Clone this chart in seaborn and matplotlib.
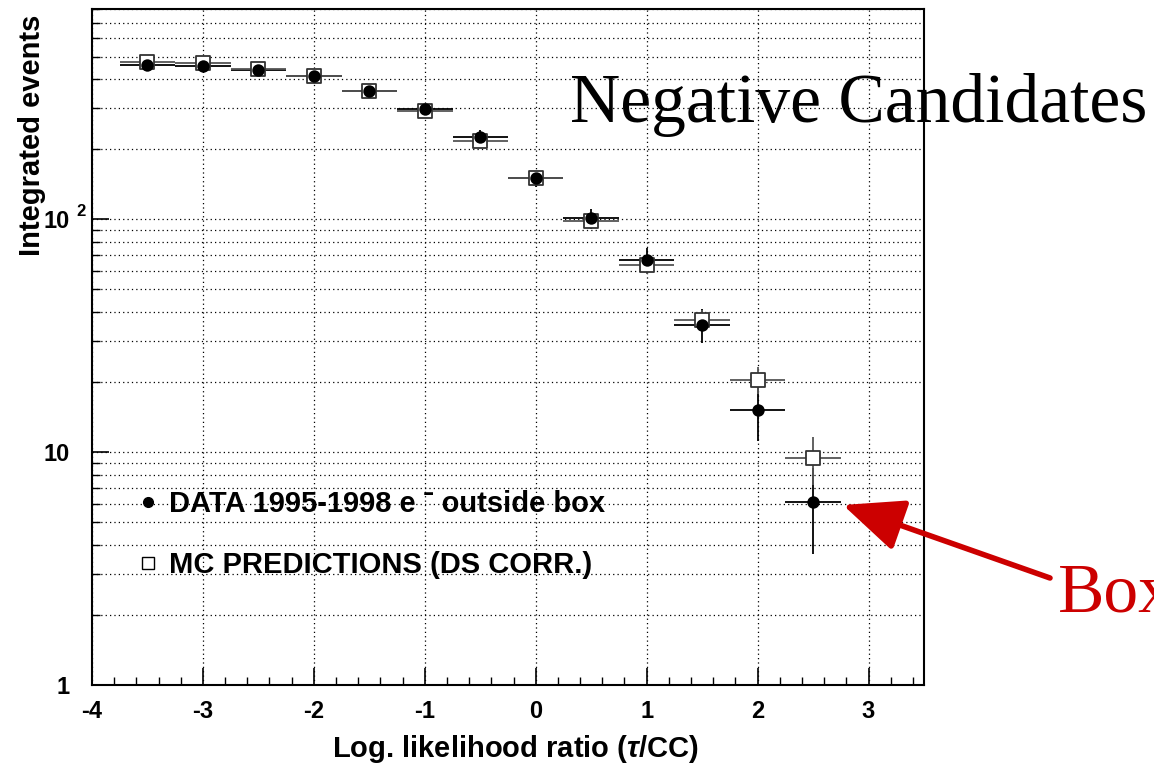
import numpy as np
import pandas as pd
import matplotlib
matplotlib.use("Agg")
import matplotlib.pyplot as plt
import matplotlib.transforms as mtransforms
import seaborn as sns
from matplotlib.ticker import FixedLocator, FixedFormatter, NullFormatter, MultipleLocator
from matplotlib.lines import Line2D

# ---- data ----
x_centers = [-3.5, -3.0, -2.5, -2.0, -1.5, -1.0, -0.5, 0.0, 0.5, 1.0, 1.5, 2.0, 2.5]
data_vals = [458, 456, 439, 411, 354, 297, 226, 150, 101, 67, 35.3, 15.1, 6.1]
data_errs = [21, 21, 21, 20, 19, 17, 15, 12, 10, 8.2, 5.9, 3.9, 2.45]
mc_vals = [472, 470, 442, 411, 354, 292, 217, 150, 98, 63.5, 37, 20.5, 9.4]
mc_errs = [14, 14, 13, 13, 12, 11, 9.5, 8, 6.5, 5, 3.8, 2.7, 2.2]
bin_half_width = 0.25
x_ticks = [-4, -3, -2, -1, 0, 1, 2, 3]
x_tick_labels = ["-4", "-3", "-2", "-1", "0", "1", "2", "3"]
y_ticks = [1, 10, 100]
y_tick_labels = ["1", "10", "10"]
y_exp_label = "2"
label_data = "DATA 1995-1998 e \u02c9 outside box"
label_mc = "MC PREDICTIONS (DS CORR.)"

df = pd.DataFrame({"x": x_centers, "data": data_vals, "data_err": data_errs,
                   "mc": mc_vals, "mc_err": mc_errs})

sns.set_theme(style="ticks")
plt.rcParams["font.family"] = ["Liberation Sans", "DejaVu Sans"]
plt.rcParams["font.weight"] = "bold"
plt.rcParams["axes.unicode_minus"] = False
plt.rcParams["mathtext.fontset"] = "custom"
plt.rcParams["mathtext.rm"] = "Liberation Sans:bold"
plt.rcParams["mathtext.bf"] = "Liberation Sans:bold"
plt.rcParams["mathtext.it"] = "Liberation Sans:bold:italic"
for key in ["text.color", "axes.labelcolor", "xtick.color", "ytick.color", "axes.edgecolor"]:
    plt.rcParams[key] = "black"

W, H = 1154, 763
fig = plt.figure(figsize=(W / 100, H / 100), dpi=100)
ax = fig.add_axes([92 / W, 1 - 685 / H, (924 - 92) / W, (685 - 9) / H])

ax.set_yscale("log")
ax.set_xlim(-4, 3.5)
ax.set_ylim(1, 800)

# grid
ax.grid(which="major", axis="x", ls=(0, (1, 2.5)), color="black", lw=0.9)
ax.grid(which="both", axis="y", ls=(0, (1, 2.5)), color="black", lw=0.9)
ax.set_axisbelow(True)

# error bars
ax.errorbar(df["x"], df["data"], xerr=bin_half_width, yerr=df["data_err"], fmt="none",
            ecolor="black", elinewidth=1.3, capsize=0, zorder=3)
ax.errorbar(df["x"], df["mc"], xerr=bin_half_width, yerr=df["mc_err"], fmt="none",
            ecolor="#555555", elinewidth=1.3, capsize=0, zorder=4)

sns.scatterplot(data=df, x="x", y="mc", marker="s", s=95, facecolor="white",
                edgecolor="#333333", linewidth=1.3, ax=ax, zorder=5, legend=False)
sns.scatterplot(data=df, x="x", y="data", marker="o", s=80, color="black",
                edgecolor="black", linewidth=0, ax=ax, zorder=6, legend=False)

# ticks
ax.xaxis.set_major_locator(FixedLocator(x_ticks))
ax.xaxis.set_major_formatter(FixedFormatter(x_tick_labels))
ax.xaxis.set_minor_locator(MultipleLocator(0.2))
ax.yaxis.set_major_locator(FixedLocator(y_ticks))
ax.yaxis.set_major_formatter(FixedFormatter(y_tick_labels))
minor_y = [m * 10 ** e for e in range(0, 3) for m in range(2, 10) if m * 10 ** e <= 800]
ax.yaxis.set_minor_locator(FixedLocator(minor_y))
ax.yaxis.set_minor_formatter(NullFormatter())
ax.tick_params(which="major", direction="in", length=12, width=1.2, top=False, right=False)
ax.tick_params(which="minor", direction="in", length=6, width=1.0, top=False, right=False)
ax.tick_params(axis="x", which="major", pad=11, labelsize=17)
ax.tick_params(axis="y", which="major", pad=16, labelsize=17)
for lab in ax.get_xticklabels() + ax.get_yticklabels():
    lab.set_fontweight("bold")
for sp in ax.spines.values():
    sp.set_linewidth(1.5)
    sp.set_color("black")

# exponent of the 10^2 label
exp_trans = mtransforms.blended_transform_factory(ax.transAxes, ax.transData)
ax.text(-(92 - 76) / 832, 100, y_exp_label, transform=exp_trans, fontsize=12,
        fontweight="bold", ha="left", va="bottom", color="black")

ax.set_xlabel(r"Log. likelihood ratio ($\tau$/CC)", fontsize=21, fontweight="bold")
ax.set_ylabel("Integrated events", fontsize=21, fontweight="bold")
ax.xaxis.set_label_coords((515 - 92) / 832, -(733 - 685) / 676)
ax.yaxis.set_label_coords(-(92 - 46) / 832, (685 - 135) / 676)

# legend
handles = [
    Line2D([], [], marker="o", ls="none", color="black", markersize=7),
    Line2D([], [], marker="s", ls="none", markerfacecolor="white",
           markeredgecolor="black", markeredgewidth=1.0, markersize=8),
]
leg = ax.legend(handles, [label_data, label_mc], loc="upper left",
                bbox_to_anchor=((133 - 92) / 832, (685 - 490) / 676),
                frameon=False, prop={"size": 21, "weight": "bold"},
                handlelength=1.0, handletextpad=0.25, labelspacing=1.13,
                borderpad=0, borderaxespad=0)

# annotations
fig.text(570 / W, 1 - 122 / H, "Negative Candidates", family="Liberation Serif",
         fontsize=50, fontweight="normal", va="baseline", ha="left", color="black")
fig.text(1058 / W, 1 - 612 / H, "Box", family="Liberation Serif",
         fontsize=50, fontweight="normal", va="baseline", ha="left", color="#cc0000")
ax.annotate("", xy=(843, H - 505), xycoords="figure pixels",
            xytext=(1050, H - 578), textcoords="figure pixels",
            arrowprops=dict(arrowstyle="-|>,head_length=1.5,head_width=0.65",
                            lw=4, color="#cc0000", mutation_scale=25,
                            shrinkA=0, shrinkB=0),
            annotation_clip=False)

fig.savefig("out.png", dpi=100)
